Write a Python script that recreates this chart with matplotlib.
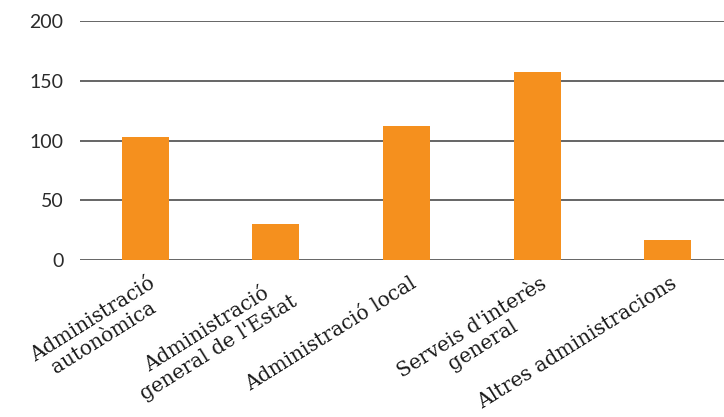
import matplotlib.pyplot as plt
import numpy as np

categories = [
    "Administració\nautonòmica",
    "Administració\ngeneral de l'Estat",
    "Administració local",
    "Serveis d'interès\ngeneral",
    "Altres administracions",
]
values = [103, 30, 112, 157, 17]
yticks = [0, 50, 100, 150, 200]

W, H = 724, 417
fig = plt.figure(figsize=(W / 100, H / 100), dpi=100)
ax = fig.add_axes([80 / W, (H - 260) / H, 1 - 80 / W, (260 - 21) / H])

x = np.arange(len(categories))
ax.bar(x, values, width=0.36, color='#F5901E', zorder=3)

ax.set_xlim(-0.5, 4.5 - 9 / 130.5)
ax.set_ylim(0, 200)
ax.set_yticks(yticks)
ax.set_yticklabels([str(t) for t in yticks], family='Lato', fontsize=14,
                   color='#2b2b2b')
ax.tick_params(axis='y', length=0, pad=12)
ax.tick_params(axis='x', length=0)
ax.set_xticks(x)
ax.set_xticklabels([])
for t in yticks:
    ax.axhline(t, color='#3c3c3c', lw=1.1, zorder=1)
for s in ax.spines.values():
    s.set_visible(False)

for xi, lab in zip(x, categories):
    ax.annotate(lab, xy=(xi, 0), xycoords=('data', 'data'),
                xytext=(2, -10), textcoords='offset points',
                rotation=32, rotation_mode='anchor', ha='right', va='top',
                multialignment='center', family='DejaVu Serif',
                fontsize=14.5, color='#1a1a1a', linespacing=1.15,
                annotation_clip=False)

fig.savefig('out.png', dpi=100)
